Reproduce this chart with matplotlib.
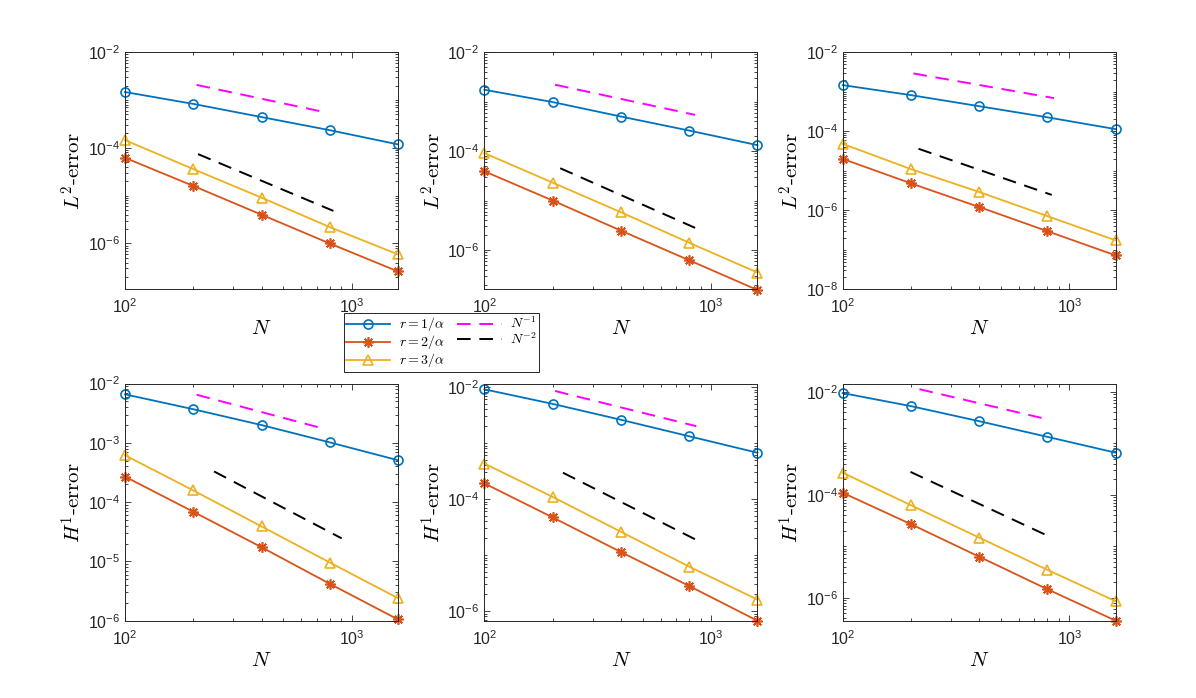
import numpy as np
import matplotlib
matplotlib.use("Agg")
from matplotlib import pyplot as plt
from matplotlib.ticker import LogLocator, NullFormatter

plt.rcParams['mathtext.fontset'] = 'cm'
plt.rcParams['font.family'] = ['Liberation Sans', 'DejaVu Sans']

N = [100, 200, 400, 800, 1600]

# L2 errors (top row), one list per column
l2_r1 = [[1.47e-3, 8.3e-4, 4.4e-4, 2.34e-4, 1.18e-4],
         [1.74e-3, 9.8e-4, 5.0e-4, 2.6e-4, 1.32e-4],
         [1.47e-3, 8.2e-4, 4.3e-4, 2.25e-4, 1.13e-4]]
l2_r2 = [[6.2e-5, 1.6e-5, 4.0e-6, 1.0e-6, 2.6e-7],
         [3.9e-5, 1.0e-5, 2.46e-6, 6.2e-7, 1.55e-7],
         [2.0e-5, 4.8e-6, 1.21e-6, 2.95e-7, 7.2e-8]]
l2_r3 = [[1.45e-4, 3.6e-5, 9.1e-6, 2.2e-6, 5.9e-7],
         [9.1e-5, 2.3e-5, 5.8e-6, 1.4e-6, 3.5e-7],
         [4.8e-5, 1.1e-5, 2.9e-6, 7.1e-7, 1.73e-7]]

# H1 errors (bottom row)
h1_r1 = [[6.6e-3, 3.7e-3, 2.0e-3, 1.02e-3, 5.1e-4],
         [9.1e-3, 5.0e-3, 2.6e-3, 1.32e-3, 6.7e-4],
         [9.5e-3, 5.3e-3, 2.7e-3, 1.34e-3, 6.6e-4]]
h1_r2 = [[2.7e-4, 6.9e-5, 1.74e-5, 4.2e-6, 1.05e-6],
         [1.9e-4, 4.7e-5, 1.13e-5, 2.8e-6, 6.7e-7],
         [1.1e-4, 2.7e-5, 6.3e-6, 1.47e-6, 3.6e-7]]
h1_r3 = [[6.2e-4, 1.58e-4, 3.9e-5, 9.6e-6, 2.4e-6],
         [4.3e-4, 1.09e-4, 2.6e-5, 6.2e-6, 1.6e-6],
         [2.7e-4, 6.3e-5, 1.48e-5, 3.5e-6, 8.6e-7]]

# reference slopes: end points (N, value) per panel, order TL, TM, TR, BL, BM, BR
ref1_n = [[207, 770], [205, 850], [205, 855], [207, 760], [205, 860], [218, 810]]
ref1_v = [[2.07e-3, 5.5e-4], [2.2e-3, 5.4e-4], [2.9e-3, 6.9e-4],
          [6.5e-3, 1.72e-3], [8.5e-3, 2.0e-3], [1.13e-2, 2.9e-3]]
ref2_n = [[210, 830], [216, 850], [216, 835], [247, 903], [222, 870], [199, 835]]
ref2_v = [[7.4e-5, 4.8e-6], [4.5e-5, 2.8e-6], [3.6e-5, 2.45e-6],
          [3.3e-4, 2.45e-5], [2.95e-4, 1.82e-5], [2.8e-4, 1.48e-5]]

ylims = [(1.1e-7, 1e-2), (1.6e-7, 1e-2), (1e-8, 1e-2),
         (1e-6, 1e-2), (6.7e-7, 1.15e-2), (3.6e-7, 1.45e-2)]
yticks = [[1e-6, 1e-4, 1e-2], [1e-6, 1e-4, 1e-2], [1e-8, 1e-6, 1e-4, 1e-2],
          [1e-6, 1e-5, 1e-4, 1e-3, 1e-2], [1e-6, 1e-4, 1e-2], [1e-6, 1e-4, 1e-2]]

c_blue = (0, 0.447, 0.741)
c_red = (0.85, 0.325, 0.098)
c_yel = (0.929, 0.694, 0.125)
star = (8, 2, 0)

fig = plt.figure(figsize=(11.96, 6.98), dpi=100)
lefts = [0.1045, 0.405, 0.7046]
bottoms = [0.5855, 0.1107]
W, H = 0.2283, 0.3397

handles = None
for row in range(2):
    for col in range(3):
        k = row * 3 + col
        ax = fig.add_axes([lefts[col], bottoms[row], W, H])
        if row == 0:
            e1, e2, e3 = l2_r1[col], l2_r2[col], l2_r3[col]
            ylab = r'$L^2$-error'
        else:
            e1, e2, e3 = h1_r1[col], h1_r2[col], h1_r3[col]
            ylab = r'$H^1$-error'
        h1, = ax.loglog(N, e1, '-', color=c_blue, marker='o', mfc='none',
                        ms=6.5, mew=1.2, lw=1.3, clip_on=False, label=r'$r=1/\alpha$')
        h2, = ax.loglog(N, e2, '-', color=c_red, marker=star, ms=7.5, mew=1.2,
                        lw=1.3, clip_on=False, label=r'$r=2/\alpha$')
        h3, = ax.loglog(N, e3, '-', color=c_yel, marker='^', mfc='none',
                        ms=7, mew=1.2, lw=1.3, clip_on=False, label=r'$r=3/\alpha$')
        h4, = ax.loglog(ref1_n[k], ref1_v[k], '--', color='magenta', lw=1.4,
                        dashes=(7, 4.5), label=r'$N^{-1}$')
        h5, = ax.loglog(ref2_n[k], ref2_v[k], '--', color='black', lw=1.4,
                        dashes=(7, 4.5), label=r'$N^{-2}$')
        handles = [h1, h2, h3, h4, h5]

        ax.set_xlim(100, 1600)
        ax.set_ylim(*ylims[k])
        ax.set_xticks([100, 1000])
        ax.set_yticks(yticks[k])
        ax.xaxis.set_minor_locator(LogLocator(subs=np.arange(1, 10), numticks=100))
        ax.yaxis.set_minor_locator(LogLocator(subs=np.arange(1, 10), numticks=100))
        ax.yaxis.set_minor_formatter(NullFormatter())
        ax.xaxis.set_minor_formatter(NullFormatter())
        ax.tick_params(which='both', direction='in', top=True, right=True,
                       colors='0.15', labelsize=11.5, width=0.6)
        ax.tick_params(which='major', length=4)
        ax.tick_params(which='minor', length=2)
        ax.tick_params(axis='x', which='major', pad=6)
        for s in ax.spines.values():
            s.set_color('0.15')
            s.set_linewidth(0.7)
        ax.set_xlabel(r'$N$', fontsize=15, labelpad=2)
        ax.set_ylabel(ylab, fontsize=15, family='cmr10', labelpad=2)

leg = fig.legend(handles=handles, ncol=2, loc='upper left',
                 bbox_to_anchor=(0.2876, 0.551), fontsize=10,
                 handlelength=3.2, fancybox=False, edgecolor='0.15',
                 framealpha=1, borderpad=0.15, labelspacing=0.0,
                 columnspacing=0.9, handletextpad=0.6, borderaxespad=0)
leg.get_frame().set_linewidth(0.7)

fig.savefig('out.png', dpi=100)
